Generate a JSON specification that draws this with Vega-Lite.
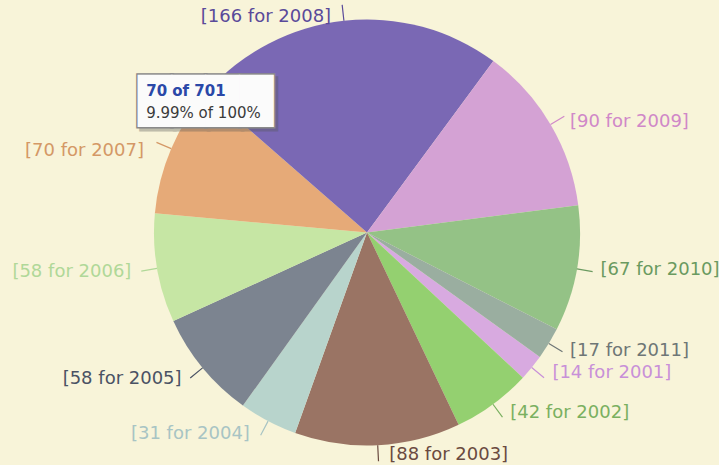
{
  "$schema": "https://vega.github.io/schema/vega-lite/v6.json",
  "width": 704,
  "height": 465,
  "autosize": {"type": "none"},
  "padding": {"left": 15, "right": 0, "top": 0, "bottom": 0},
  "background": "#f8f4d9",
  "view": {"stroke": null},
  "data": {
    "values": [
      {"year": 2001, "count": 14, "label": "[14 for 2001]"},
      {"year": 2002, "count": 42, "label": "[42 for 2002]"},
      {"year": 2003, "count": 88, "label": "[88 for 2003]"},
      {"year": 2004, "count": 31, "label": "[31 for 2004]"},
      {"year": 2005, "count": 58, "label": "[58 for 2005]"},
      {"year": 2006, "count": 58, "label": "[58 for 2006]"},
      {"year": 2007, "count": 70, "label": "[70 for 2007]"},
      {"year": 2008, "count": 166, "label": "[166 for 2008]"},
      {"year": 2009, "count": 90, "label": "[90 for 2009]"},
      {"year": 2010, "count": 67, "label": "[67 for 2010]"},
      {"year": 2011, "count": 17, "label": "[17 for 2011]"}
    ]
  },
  "encoding": {
    "theta": {"field": "count", "type": "quantitative", "stack": true, "scale": {"range": [2.195, 8.478]}},
    "order": {"field": "year", "type": "ordinal"},
    "color": {
      "field": "year", "type": "nominal", "legend": null,
      "scale": {
        "domain": [2001, 2002, 2003, 2004, 2005, 2006, 2007, 2008, 2009, 2010, 2011],
        "range": ["#c890d8", "#7ab060", "#6a4a40", "#a8c4c4", "#4a5264", "#b0d898", "#d49866", "#5a4a9a", "#d088c8", "#6a9a60", "#6e7676"]
      }
    }
  },
  "layer": [
    {
      "mark": {"type": "arc", "radius": 213},
      "encoding": {
        "color": null,
        "fill": {
          "field": "year", "type": "nominal", "legend": null,
          "scale": {
            "domain": [2001, 2002, 2003, 2004, 2005, 2006, 2007, 2008, 2009, 2010, 2011],
            "range": ["#d8aae0", "#94d070", "#9a7464", "#b8d4cc", "#7c8490", "#c6e6a4", "#e6aa78", "#7a68b4", "#d4a2d4", "#94c286", "#9aaea0"]
          }
        }
      }
    },
    {
      "mark": {"type": "arc", "radius": 229, "radius2": 213, "padAngle": 3, "fill": null, "strokeWidth": 1.2},
      "encoding": {
        "color": null,
        "stroke": {
          "field": "year", "type": "nominal", "legend": null,
          "scale": {
            "domain": [2001, 2002, 2003, 2004, 2005, 2006, 2007, 2008, 2009, 2010, 2011],
            "range": ["#c890d8", "#7ab060", "#6a4a40", "#a8c4c4", "#4a5264", "#b0d898", "#d49866", "#5a4a9a", "#d088c8", "#6a9a60", "#6e7676"]
          }
        }
      }
    },
    {
      "mark": {"type": "text", "radius": 232, "align": "left", "baseline": "middle", "font": "DejaVu Sans", "fontSize": 18, "dx": 5, "dy": -2},
      "encoding": {
        "text": {"condition": {"test": "indexof([2010,2011], datum.year) >= 0", "field": "label"}, "value": ""}
      }
    },
    {
      "mark": {"type": "text", "radius": 232, "align": "left", "baseline": "middle", "font": "DejaVu Sans", "fontSize": 18, "dx": 6, "dy": -7},
      "encoding": {
        "text": {"condition": {"test": "indexof([2001,2002], datum.year) >= 0", "field": "label"}, "value": ""}
      }
    },
    {
      "mark": {"type": "text", "radius": 232, "align": "left", "baseline": "middle", "font": "DejaVu Sans", "fontSize": 18, "dx": 3, "dy": 7},
      "encoding": {
        "text": {"condition": {"test": "datum.year == 2009", "field": "label"}, "value": ""}
      }
    },
    {
      "mark": {"type": "text", "radius": 222, "align": "left", "baseline": "middle", "font": "DejaVu Sans", "fontSize": 18, "dx": 11, "dy": 1},
      "encoding": {
        "text": {"condition": {"test": "datum.year == 2003", "field": "label"}, "value": ""}
      }
    },
    {
      "mark": {"type": "text", "radius": 235, "align": "right", "baseline": "middle", "font": "DejaVu Sans", "fontSize": 18, "dx": -4, "dy": 0},
      "encoding": {
        "text": {"condition": {"test": "datum.year == 2006", "field": "label"}, "value": ""}
      }
    },
    {
      "mark": {"type": "text", "radius": 235, "align": "right", "baseline": "middle", "font": "DejaVu Sans", "fontSize": 18, "dx": -4, "dy": -3},
      "encoding": {
        "text": {"condition": {"test": "datum.year == 2005", "field": "label"}, "value": ""}
      }
    },
    {
      "mark": {"type": "text", "radius": 235, "align": "right", "baseline": "middle", "font": "DejaVu Sans", "fontSize": 18, "dx": -8, "dy": -7},
      "encoding": {
        "text": {"condition": {"test": "datum.year == 2004", "field": "label"}, "value": ""}
      }
    },
    {
      "mark": {"type": "text", "radius": 235, "align": "right", "baseline": "middle", "font": "DejaVu Sans", "fontSize": 18, "dx": -7, "dy": 11},
      "encoding": {
        "text": {"condition": {"test": "datum.year == 2007", "field": "label"}, "value": ""}
      }
    },
    {
      "mark": {"type": "text", "radius": 220, "align": "right", "baseline": "middle", "font": "DejaVu Sans", "fontSize": 18, "dx": -12, "dy": 3},
      "encoding": {
        "text": {"condition": {"test": "datum.year == 2008", "field": "label"}, "value": ""}
      }
    },
    {
      "mark": {"type": "text", "radius": 213, "align": "left", "baseline": "middle", "font": "DejaVu Sans", "fontSize": 44, "dx": -30, "dy": -43, "fill": "#555555", "stroke": "#555555", "strokeWidth": 3, "opacity": 0.35},
      "encoding": {
        "color": null,
        "text": {"condition": {"test": "datum.year == 2007", "value": "████"}, "value": ""}
      }
    },
    {
      "mark": {"type": "text", "radius": 213, "align": "left", "baseline": "middle", "font": "DejaVu Sans", "fontSize": 44, "dx": -33, "dy": -46, "fill": "#8a8a8a", "stroke": "#8a8a8a", "strokeWidth": 3},
      "encoding": {
        "color": null,
        "text": {"condition": {"test": "datum.year == 2007", "value": "████"}, "value": ""}
      }
    },
    {
      "mark": {"type": "text", "radius": 213, "align": "left", "baseline": "middle", "font": "DejaVu Sans", "fontSize": 44, "dx": -33, "dy": -46, "fill": "#fbfbfb"},
      "encoding": {
        "color": null,
        "text": {"condition": {"test": "datum.year == 2007", "value": "████"}, "value": ""}
      }
    },
    {
      "mark": {"type": "text", "radius": 213, "align": "left", "baseline": "middle", "font": "DejaVu Sans", "fontSize": 15, "fontWeight": "bold", "dx": -25, "dy": -58, "fill": "#2a48a8"},
      "encoding": {
        "color": null,
        "text": {"condition": {"test": "datum.year == 2007", "value": "70 of 701"}, "value": ""}
      }
    },
    {
      "mark": {"type": "text", "radius": 213, "align": "left", "baseline": "middle", "font": "DejaVu Sans", "fontSize": 15, "dx": -25, "dy": -36, "fill": "#3a3a3a"},
      "encoding": {
        "color": null,
        "text": {"condition": {"test": "datum.year == 2007", "value": "9.99% of 100%"}, "value": ""}
      }
    }
  ]
}
